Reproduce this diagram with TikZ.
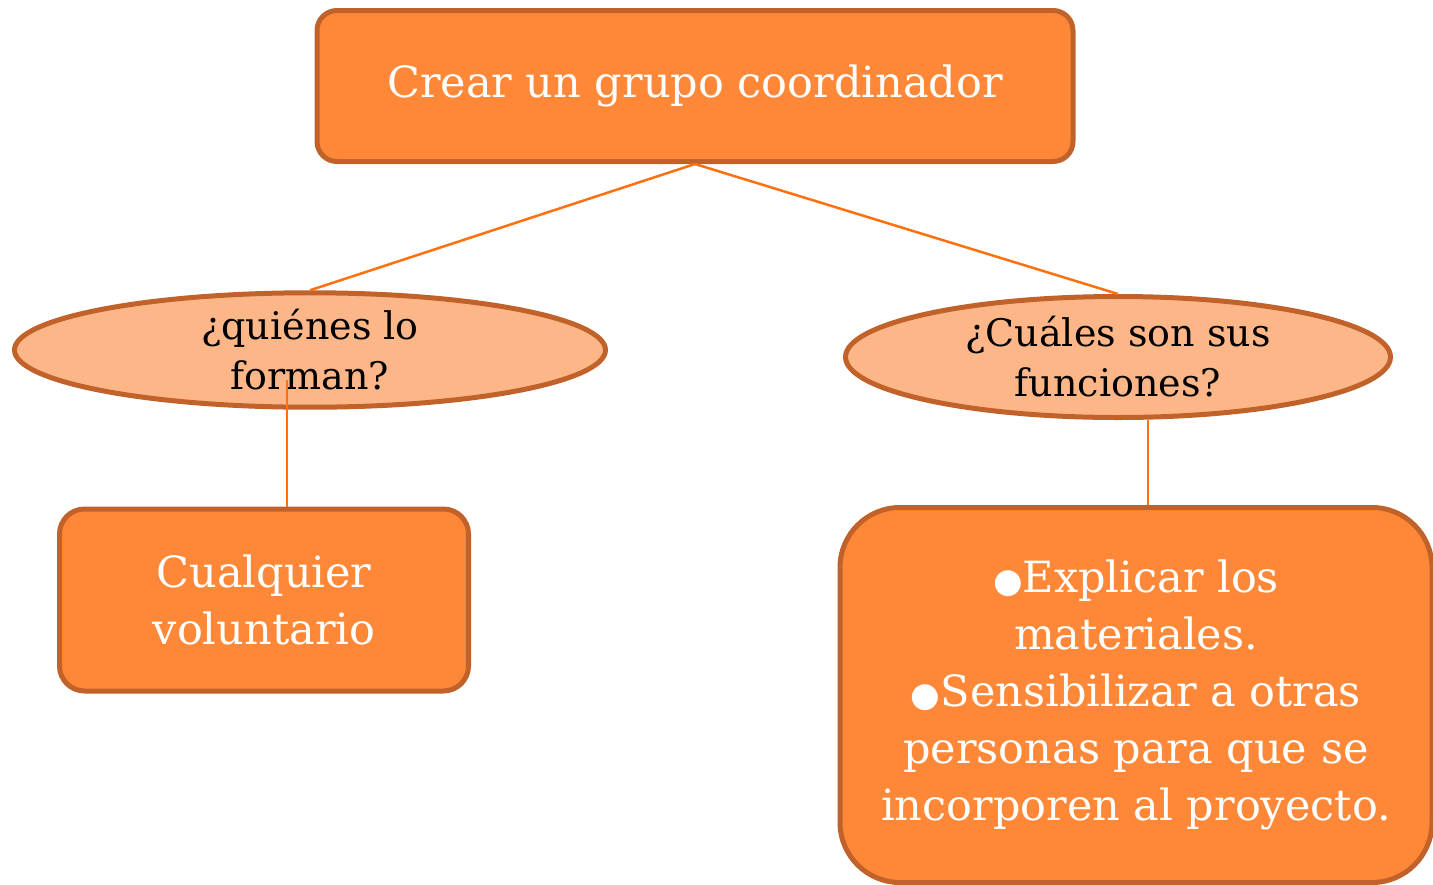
\documentclass[tikz,border=0pt]{standalone}
\usepackage{fontspec}
\setmainfont{DejaVu Serif}
\newfontfamily\simbolos{DejaVu Sans}
\usetikzlibrary{shapes.geometric,positioning}
\definecolor{naranja}{HTML}{FF8838}
\definecolor{borde}{HTML}{C0622A}
\definecolor{claro}{HTML}{FDB688}
\definecolor{linea}{HTML}{FF7010}
\newcommand{\punto}{{\simbolos\fontsize{34}{57}\selectfont ●}}
\begin{document}
\begin{tikzpicture}[x=1pt,y=-1pt,
	caja/.style={rectangle,rounded corners=20pt,draw=borde,line width=5pt,fill=naranja,text=white,align=center,inner sep=0pt,font=\fontsize{43}{57}\selectfont},
	elipse/.style={ellipse,draw=borde,line width=5pt,fill=claro,text=black,align=center,inner sep=0pt,font=\fontsize{38}{50}\selectfont},
	enlace/.style={draw=linea,line width=2.5pt}]
	\useasboundingbox (0,0) rectangle (1433,884);
	\node[caja,minimum width=756pt,minimum height=151pt] (grupo) at (695,86) {Crear un grupo coordinador};
	\node[elipse,minimum width=591pt,minimum height=107pt] (quienes) at (310,350) {¿quiénes lo\\forman?};
	\node[elipse,minimum width=545pt,minimum height=121pt] (cuales) at (1118,357) {¿Cuáles son sus\\funciones?};
	\node[caja,rounded corners=25pt,minimum width=409pt,minimum height=182pt] (voluntario) at (264,600) {Cualquier\\voluntario};
	\node[caja,rounded corners=60pt,minimum width=592pt,minimum height=375pt] (funciones) at (1136,695)
		{\punto Explicar los\\materiales.\\\punto Sensibilizar a otras\\personas para que se\\incorporen al proyecto.};
	\draw[enlace] (grupo.south) -- (quienes.north);
	\draw[enlace] (grupo.south) -- (cuales.north);
	\coordinate (ini) at ([shift={(-23,30)}]quienes.center);
	\draw[enlace] (ini) -- (ini |- voluntario.north);
	\coordinate (der) at ([xshift=30pt]cuales.south);
	\draw[enlace] (der) -- (der |- funciones.north);
\end{tikzpicture}
\end{document}
